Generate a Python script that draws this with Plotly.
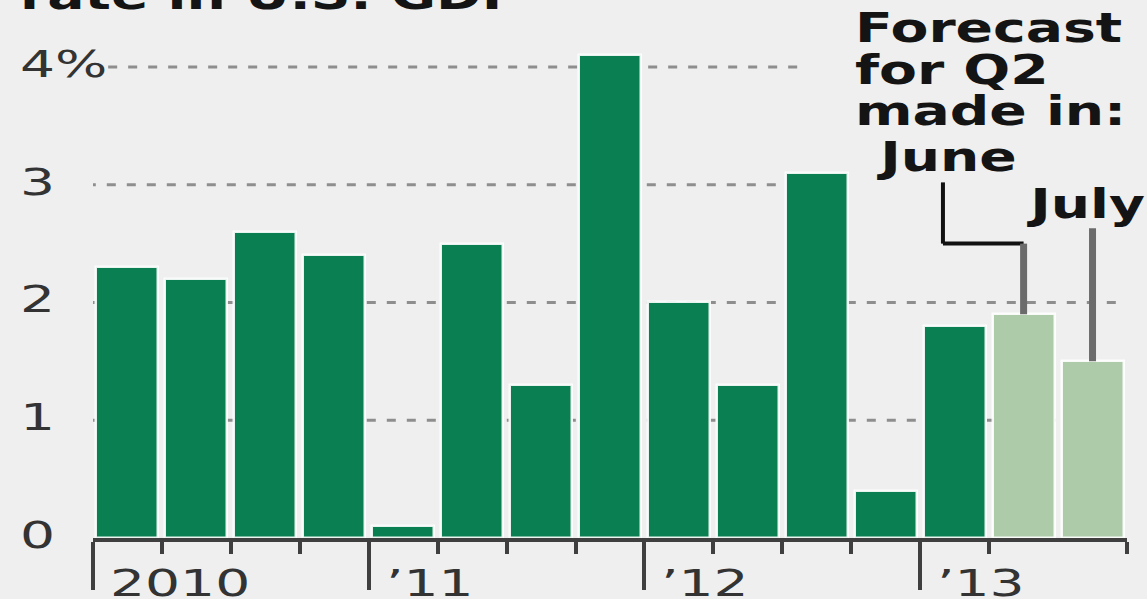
import plotly.graph_objects as go

# Quarterly annualized GDP growth, percent
quarters = ["2010 Q1", "2010 Q2", "2010 Q3", "2010 Q4",
            "2011 Q1", "2011 Q2", "2011 Q3", "2011 Q4",
            "2012 Q1", "2012 Q2", "2012 Q3", "2012 Q4",
            "2013 Q1"]
growth = [2.3, 2.2, 2.6, 2.4, 0.1, 2.5, 1.3, 4.1, 2.0, 1.3, 3.1, 0.4, 1.8]

# Forecasts for 2013 Q2, by the month they were made
forecast_months = ["June", "July"]
forecast_q2 = [1.9, 1.5]

year_labels = ["2010", "\u201911", "\u201912", "\u201913"]
year_first_bar = [0, 4, 8, 12]

y_ticks = [0, 1, 2, 3, 4]
y_tick_text = ["0", "1", "2", "3", "4%"]

# ---- layout geometry -------------------------------------------------------
W, H = 1147, 599
M_L, M_R, M_T, M_B = 93, 20, 14, 61
PW, PH = W - M_L - M_R, H - M_T - M_B
Y_MAX = 4.45

BG = "#efefef"
DARK_GREEN = "#0a8052"
LIGHT_GREEN = "#adcba9"
GRID = "#8e8e8e"
AXIS = "#3f3f3f"

BOLD = dict(family="DejaVu Sans", size=40, color="#141414", weight="bold")
REG = dict(family="DejaVu Sans", size=38, color="#333333")


def px_x(px):
    return (px - M_L) / PW


def px_y(py):
    return (H - M_B - py) / PH


n_actual = len(growth)
x_actual = list(range(n_actual))
x_forecast = [n_actual + i for i in range(len(forecast_q2))]

fig = go.Figure()

fig.add_bar(
    x=x_actual, y=growth, width=0.9,
    marker=dict(color=DARK_GREEN, line=dict(color="rgba(255,255,255,0.9)", width=2.5)),
    customdata=quarters, hovertemplate="%{customdata}: %{y}%<extra></extra>",
)
fig.add_bar(
    x=x_forecast, y=forecast_q2, width=0.9,
    marker=dict(color=LIGHT_GREEN, line=dict(color="rgba(255,255,255,0.9)", width=2.5)),
    customdata=forecast_months, hovertemplate="Q2 forecast (%{customdata}): %{y}%<extra></extra>",
)

# dotted gridlines, each with its own horizontal extent
x_lo = -0.59
x_hi = x_forecast[-1] + 0.45
grid_extent = {1: (x_lo, x_hi), 2: (x_lo, x_hi), 3: (x_lo, 10.4), 4: (-0.28, 9.85)}
shapes = []
for lvl, (a, b) in grid_extent.items():
    shapes.append(dict(type="line", xref="x", yref="y", x0=a, x1=b, y0=lvl, y1=lvl,
                       line=dict(color=GRID, width=3, dash="9px,11px"), layer="below"))

# leader lines from the month labels to the forecast bars
june_x, july_x = x_forecast
june_leader_x = 11.83
june_top, june_elbow = 3.02, 2.5
july_top = 2.63
shapes += [
    dict(type="line", xref="x", yref="y", x0=june_leader_x, x1=june_leader_x,
         y0=june_top, y1=june_elbow, line=dict(color="#111111", width=4)),
    dict(type="line", xref="x", yref="y", x0=june_leader_x, x1=june_x,
         y0=june_elbow, y1=june_elbow, line=dict(color="#111111", width=4)),
    dict(type="line", xref="x", yref="y", x0=june_x, x1=june_x,
         y0=june_elbow, y1=forecast_q2[0], line=dict(color="#6b6b6b", width=7)),
    dict(type="line", xref="x", yref="y", x0=july_x, x1=july_x,
         y0=july_top, y1=forecast_q2[1], line=dict(color="#6b6b6b", width=7)),
]

annotations = []
# y-axis labels, left aligned
for v, t in zip(y_ticks, y_tick_text):
    annotations.append(dict(text=t, xref="paper", x=0, xanchor="left", xshift=-75,
                            yref="y", y=v, yanchor="middle", yshift=3,
                            showarrow=False, font=REG))
# year labels beside the long ticks
for i, t in zip(year_first_bar, year_labels):
    annotations.append(dict(text=t, xref="x", x=i - 0.5, xanchor="left", xshift=15,
                            yref="paper", y=0, yanchor="middle", yshift=-44.5,
                            showarrow=False, font=REG))
# headline (runs off the top edge)
annotations.append(dict(text="rate in U.S. GDP", xref="paper", x=0, xanchor="left", xshift=-75,
                        yref="paper", y=1, yanchor="bottom", yshift=-6,
                        showarrow=False, font=BOLD))
# forecast note
for txt, left, base in [("Forecast", 853, 42), ("for Q2", 853, 84), ("made in:", 853, 125)]:
    annotations.append(dict(text=txt, xref="paper", x=px_x(left), xanchor="left",
                            yref="paper", y=px_y(base - 13.8), yanchor="middle",
                            showarrow=False, font=BOLD))
for txt, left, base in [(forecast_months[0], 874, 171), (forecast_months[1], 1024, 218)]:
    annotations.append(dict(text=txt, xref="paper", x=px_x(left), xanchor="left",
                            yref="paper", y=px_y(base - 13.8), yanchor="middle",
                            showarrow=False, font=BOLD))

minor_ticks = [i - 0.5 for i in range(1, x_forecast[-1] + 2)
               if (i - 0.5) not in [j - 0.5 for j in year_first_bar] and i != x_forecast[-1]]

fig.update_layout(
    width=W, height=H, autosize=False,
    margin=dict(l=M_L, r=M_R, t=M_T, b=M_B),
    paper_bgcolor=BG, plot_bgcolor=BG,
    showlegend=False, bargap=0,
    shapes=shapes, annotations=annotations,
    xaxis=dict(range=[-0.5, x_forecast[-1] + 0.5], showgrid=False, zeroline=False,
               showline=True, linecolor=AXIS, linewidth=4,
               tickmode="array", tickvals=[i - 0.5 for i in year_first_bar],
               ticks="outside", ticklen=48, tickwidth=4, tickcolor=AXIS,
               showticklabels=False,
               minor=dict(tickmode="array", tickvals=minor_ticks, ticks="outside",
                          ticklen=12, tickwidth=4, tickcolor=AXIS)),
    yaxis=dict(range=[0, Y_MAX], showgrid=False, zeroline=False, showline=False,
               showticklabels=False, ticks=""),
)

# widen the lettering horizontally, anchored at each label's left edge
widen_js = """
var gd = document.getElementById('{plot_id}');
function widen() {
  gd.querySelectorAll('g.annotation text.annotation-text').forEach(function (t) {
    if (t.getAttribute('data-widened')) return;
    var fw = window.getComputedStyle(t).fontWeight;
    var k = (fw === 'bold' || parseInt(fw, 10) >= 600) ? 1.38 : 1.45;
    var b = t.getBBox();
    var x0 = b.x;
    var prev = t.getAttribute('transform') || '';
    t.setAttribute('transform', prev + ' translate(' + x0 + ',0) scale(' + k + ',1) translate(' + (-x0) + ',0)');
    t.setAttribute('data-widened', '1');
  });
}
widen();
"""

fig.write_html("out.html", post_script=widen_js, config={"displayModeBar": False})
